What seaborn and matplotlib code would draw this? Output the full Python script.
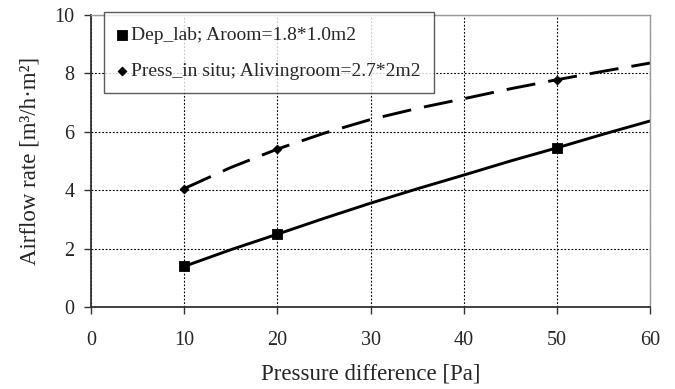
import matplotlib
matplotlib.use("Agg")
import matplotlib.pyplot as plt
import seaborn as sns
import pandas as pd

# measured points (markers)
pts_x = [10, 20, 50]
dep_lab_pts = [1.40, 2.50, 5.45]
press_pts = [4.06, 5.41, 7.78]

# fitted curves
curve_x = [10, 15, 20, 25, 30, 35, 40, 45, 50, 55, 60]
dep_lab_curve = [1.40, 1.97, 2.50, 3.04, 3.56, 4.05, 4.52, 5.00, 5.45, 5.92, 6.37]
press_curve = [4.06, 4.78, 5.41, 5.95, 6.42, 6.80, 7.13, 7.47, 7.78, 8.07, 8.35]

lab_dep = "Dep_lab; Aroom=1.8*1.0m2"
lab_press = "Press_in situ; Alivingroom=2.7*2m2"

sns.set_style("white")
plt.rcParams['font.family'] = ['Liberation Serif', 'DejaVu Serif']

fig = plt.figure(figsize=(6.75, 3.89), dpi=100)
ax = fig.add_axes([0.135, 0.21, 0.828, 0.752])

curves = pd.DataFrame({"x": curve_x, "dep": dep_lab_curve, "press": press_curve})
sns.lineplot(data=curves, x="x", y="dep", ax=ax, color="black", lw=2.1, legend=False)
sns.lineplot(data=curves, x="x", y="press", ax=ax, color="black", lw=2.1,
             legend=False)
ax.lines[-1].set_dashes([10, 4.5])

pts = pd.DataFrame({"x": pts_x, "dep": dep_lab_pts, "press": press_pts})
sns.scatterplot(data=pts, x="x", y="dep", ax=ax, marker="s", s=55, color="black",
                edgecolor="black", label=lab_dep, zorder=5)
sns.scatterplot(data=pts, x="x", y="press", ax=ax, marker="D", s=22, color="black",
                edgecolor="black", label=lab_press, zorder=5)

ax.set_xlim(0, 60)
ax.set_ylim(0, 10)
ax.set_xticks(range(0, 61, 10))
ax.set_yticks(range(0, 11, 2))
ax.grid(True, color="black", linestyle=(0, (1.6, 1.6)), linewidth=0.8)
ax.set_axisbelow(True)

for s in ["left", "bottom"]:
    ax.spines[s].set_color("#333333")
    ax.spines[s].set_linewidth(1.3)
for s in ["top", "right"]:
    ax.spines[s].set_color("#999999")
    ax.spines[s].set_linewidth(1.0)

ax.tick_params(axis="both", direction="out", length=5, width=1.0, color="#333333",
               labelsize=14.5, pad=7, bottom=True, left=True)
ax.tick_params(axis="x", pad=12)

ax.set_xlabel("Pressure difference [Pa]", fontsize=16.5, labelpad=10)
ax.set_ylabel("Airflow rate [m³/h·m²]", fontsize=16.5, labelpad=10)

leg = ax.legend(loc="upper left", bbox_to_anchor=(0.023, 1.008), borderaxespad=0,
                fontsize=14, frameon=True, fancybox=False, handlelength=0.5,
                handletextpad=0.2, labelspacing=0.95, borderpad=0.7)
leg.get_frame().set_edgecolor("#333333")
leg.get_frame().set_linewidth(1.0)
leg.set_zorder(10)

fig.savefig("out.png", dpi=100)
